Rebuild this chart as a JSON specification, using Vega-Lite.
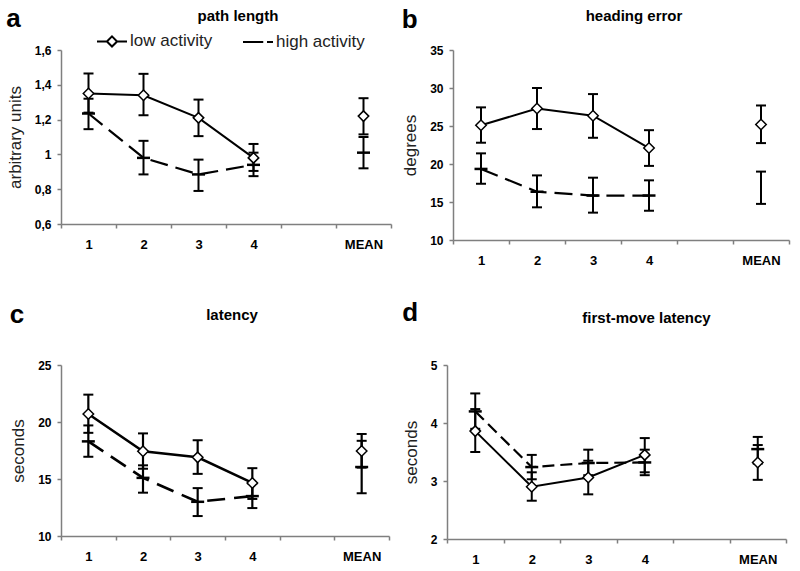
{
  "$schema": "https://vega.github.io/schema/vega-lite/v6.json",
  "padding": {"left": 6, "top": 6, "right": 5, "bottom": 5},
  "background": "white",
  "config": {
    "font": "Liberation Sans",
    "view": {"stroke": null},
    "axis": {"domainColor": "#7f7f7f", "domainWidth": 1.5, "tickColor": "#7f7f7f", "tickWidth": 1.5, "tickSize": 4, "labelFontSize": 12, "labelFontWeight": "bold", "labelColor": "black", "titleFontSize": 17, "titleFontWeight": "normal", "titleColor": "#222", "grid": false, "labelOverlap": false},
    "axisX": {"labelPadding": 10, "labelFontSize": 13},
    "axisY": {"labelPadding": 6, "titlePadding": 10},
    "title": {"color": "black"}
  },
  "data": {"values": [
    {"panel": "a", "group": "low activity", "x": "1", "y": 1.35, "lo": 1.24, "hi": 1.465},
    {"panel": "a", "group": "low activity", "x": "2", "y": 1.34, "lo": 1.225, "hi": 1.463},
    {"panel": "a", "group": "low activity", "x": "3", "y": 1.21, "lo": 1.105, "hi": 1.315},
    {"panel": "a", "group": "low activity", "x": "4", "y": 0.98, "lo": 0.905, "hi": 1.06},
    {"panel": "a", "group": "low activity", "x": "MEAN", "y": 1.22, "lo": 1.115, "hi": 1.323},
    {"panel": "a", "group": "high activity", "x": "1", "y": 1.235, "lo": 1.145, "hi": 1.32},
    {"panel": "a", "group": "high activity", "x": "2", "y": 0.98, "lo": 0.885, "hi": 1.078},
    {"panel": "a", "group": "high activity", "x": "3", "y": 0.885, "lo": 0.79, "hi": 0.97},
    {"panel": "a", "group": "high activity", "x": "4", "y": 0.94, "lo": 0.875, "hi": 1.01},
    {"panel": "a", "group": "high activity", "x": "MEAN", "y": 1.01, "lo": 0.92, "hi": 1.1},
    {"panel": "b", "group": "low activity", "x": "1", "y": 25.1, "lo": 22.8, "hi": 27.45},
    {"panel": "b", "group": "low activity", "x": "2", "y": 27.3, "lo": 24.6, "hi": 30.0},
    {"panel": "b", "group": "low activity", "x": "3", "y": 26.35, "lo": 23.45, "hi": 29.2},
    {"panel": "b", "group": "low activity", "x": "4", "y": 22.1, "lo": 19.75, "hi": 24.45},
    {"panel": "b", "group": "low activity", "x": "MEAN", "y": 25.2, "lo": 22.75, "hi": 27.7},
    {"panel": "b", "group": "high activity", "x": "1", "y": 19.35, "lo": 17.4, "hi": 21.4},
    {"panel": "b", "group": "high activity", "x": "2", "y": 16.35, "lo": 14.3, "hi": 18.5},
    {"panel": "b", "group": "high activity", "x": "3", "y": 15.85, "lo": 13.6, "hi": 18.2},
    {"panel": "b", "group": "high activity", "x": "4", "y": 15.85, "lo": 13.85, "hi": 17.85},
    {"panel": "b", "group": "high activity", "x": "MEAN", "y": 16.9, "lo": 14.75, "hi": 19.0},
    {"panel": "c", "group": "low activity", "x": "1", "y": 20.7, "lo": 19.05, "hi": 22.4},
    {"panel": "c", "group": "low activity", "x": "2", "y": 17.43, "lo": 15.9, "hi": 19.0},
    {"panel": "c", "group": "low activity", "x": "3", "y": 16.9, "lo": 15.45, "hi": 18.4},
    {"panel": "c", "group": "low activity", "x": "4", "y": 14.65, "lo": 13.25, "hi": 15.95},
    {"panel": "c", "group": "low activity", "x": "MEAN", "y": 17.45, "lo": 16.0, "hi": 18.95},
    {"panel": "c", "group": "high activity", "x": "1", "y": 18.3, "lo": 16.95, "hi": 19.7},
    {"panel": "c", "group": "high activity", "x": "2", "y": 15.1, "lo": 13.8, "hi": 16.2},
    {"panel": "c", "group": "high activity", "x": "3", "y": 13.0, "lo": 11.75, "hi": 14.2},
    {"panel": "c", "group": "high activity", "x": "4", "y": 13.5, "lo": 12.45, "hi": 14.6},
    {"panel": "c", "group": "high activity", "x": "MEAN", "y": 16.05, "lo": 13.75, "hi": 18.35},
    {"panel": "d", "group": "low activity", "x": "1", "y": 3.86, "lo": 3.5, "hi": 4.24},
    {"panel": "d", "group": "low activity", "x": "2", "y": 2.9, "lo": 2.66, "hi": 3.15},
    {"panel": "d", "group": "low activity", "x": "3", "y": 3.06, "lo": 2.77, "hi": 3.35},
    {"panel": "d", "group": "low activity", "x": "4", "y": 3.45, "lo": 3.15, "hi": 3.74},
    {"panel": "d", "group": "low activity", "x": "MEAN", "y": 3.32, "lo": 3.02, "hi": 3.62},
    {"panel": "d", "group": "high activity", "x": "1", "y": 4.2, "lo": 3.9, "hi": 4.51},
    {"panel": "d", "group": "high activity", "x": "2", "y": 3.24, "lo": 3.03, "hi": 3.45},
    {"panel": "d", "group": "high activity", "x": "3", "y": 3.31, "lo": 3.1, "hi": 3.54},
    {"panel": "d", "group": "high activity", "x": "4", "y": 3.32, "lo": 3.1, "hi": 3.54},
    {"panel": "d", "group": "high activity", "x": "MEAN", "y": 3.55, "lo": 3.3, "hi": 3.76}
  ]},
  "spacing": 33,
  "vconcat": [
    {
      "spacing": 9,
      "hconcat": [
        {
          "title": {"text": "a", "anchor": "start", "frame": "bounds", "fontSize": 26, "fontWeight": "bold", "offset": -23},
          "vconcat": [{
            "width": 330, "height": 174,
            "title": {"text": "path length", "fontSize": 15, "fontWeight": "bold", "offset": 20, "dx": 12},
            "transform": [{"filter": "datum.panel === 'a'"}],
            "encoding": {"x": {"field": "x", "type": "ordinal", "scale": {"domain": ["1", "2", "3", "4", " ", "MEAN"], "paddingInner": 0, "paddingOuter": 0}, "axis": {"title": null, "labelAngle": 0, "tickBand": "extent"}}},
            "layer": [
              {"transform": [{"filter": "datum.x !== 'MEAN' && datum.group === 'low activity'"}], "mark": {"type": "line", "color": "black", "strokeWidth": 2},
               "encoding": {"y": {"field": "y", "type": "quantitative", "title": "arbitrary units", "scale": {"domain": [0.6, 1.6], "nice": false, "zero": false}, "axis": {"values": [0.6, 0.8, 1, 1.2, 1.4, 1.6], "labelExpr": "replace(format(datum.value, '~g'), '.', ',')"}}}},
              {"transform": [{"filter": "datum.x !== 'MEAN' && datum.group === 'high activity'"}], "mark": {"type": "line", "color": "black", "strokeWidth": 2.2, "strokeDash": [18, 8]},
               "encoding": {"y": {"field": "y", "type": "quantitative", "title": "arbitrary units", "scale": {"domain": [0.6, 1.6], "nice": false, "zero": false}, "axis": {"values": [0.6, 0.8, 1, 1.2, 1.4, 1.6], "labelExpr": "replace(format(datum.value, '~g'), '.', ',')"}}}},
              {"mark": {"type": "rule", "color": "black", "strokeWidth": 2}, "encoding": {"y": {"field": "lo", "type": "quantitative", "title": "arbitrary units", "scale": {"domain": [0.6, 1.6], "nice": false, "zero": false}, "axis": {"values": [0.6, 0.8, 1, 1.2, 1.4, 1.6], "labelExpr": "replace(format(datum.value, '~g'), '.', ',')"}}, "y2": {"field": "hi"}, "detail": {"field": "group"}}},
              {"mark": {"type": "tick", "color": "black", "size": 10, "thickness": 2, "opacity": 1}, "encoding": {"y": {"field": "lo", "type": "quantitative", "title": "arbitrary units", "scale": {"domain": [0.6, 1.6], "nice": false, "zero": false}, "axis": {"values": [0.6, 0.8, 1, 1.2, 1.4, 1.6], "labelExpr": "replace(format(datum.value, '~g'), '.', ',')"}}}},
              {"mark": {"type": "tick", "color": "black", "size": 10, "thickness": 2, "opacity": 1}, "encoding": {"y": {"field": "hi", "type": "quantitative", "title": "arbitrary units", "scale": {"domain": [0.6, 1.6], "nice": false, "zero": false}, "axis": {"values": [0.6, 0.8, 1, 1.2, 1.4, 1.6], "labelExpr": "replace(format(datum.value, '~g'), '.', ',')"}}}},
              {"transform": [{"filter": "datum.group === 'high activity'"}], "mark": {"type": "tick", "color": "black", "size": 13, "thickness": 2.5, "opacity": 1}, "encoding": {"y": {"field": "y", "type": "quantitative", "title": "arbitrary units", "scale": {"domain": [0.6, 1.6], "nice": false, "zero": false}, "axis": {"values": [0.6, 0.8, 1, 1.2, 1.4, 1.6], "labelExpr": "replace(format(datum.value, '~g'), '.', ',')"}}}},
              {"transform": [{"filter": "datum.group === 'low activity'"}], "mark": {"type": "point", "shape": "diamond", "filled": true, "fill": "white", "stroke": "black", "strokeWidth": 1.5, "size": 110, "opacity": 1},
               "encoding": {"y": {"field": "y", "type": "quantitative", "title": "arbitrary units", "scale": {"domain": [0.6, 1.6], "nice": false, "zero": false}, "axis": {"values": [0.6, 0.8, 1, 1.2, 1.4, 1.6], "labelExpr": "replace(format(datum.value, '~g'), '.', ',')"}}}},
              {"transform": [{"filter": "false"}], "mark": {"type": "point", "filled": false, "color": "black", "strokeWidth": 2, "size": 900, "opacity": 1},
               "encoding": {"y": {"field": "y", "type": "quantitative", "title": "arbitrary units", "scale": {"domain": [0.6, 1.6], "nice": false, "zero": false}, "axis": {"values": [0.6, 0.8, 1, 1.2, 1.4, 1.6], "labelExpr": "replace(format(datum.value, '~g'), '.', ',')"}},
                 "shape": {"field": "group", "type": "nominal", "scale": {"domain": ["low activity", "high activity"], "range": ["M-1,0L-0.34,0M0.34,0L1,0M0,-0.34L0.34,0L0,0.34L-0.34,0Z", "M-1,0L0.35,0M0.6,0L1,0"]},
                   "legend": {"orient": "none", "legendX": 35, "legendY": -25, "direction": "horizontal", "title": null, "labelFontSize": 17, "labelFontWeight": "normal", "labelColor": "#222", "labelOffset": 2, "columnPadding": 26, "symbolSize": 900, "symbolStrokeWidth": 2, "symbolStrokeColor": "black", "symbolOpacity": 1}}}}
            ]
          }]
        },
        {
          "title": {"text": "b", "anchor": "start", "frame": "bounds", "fontSize": 26, "fontWeight": "bold", "offset": -24},
          "vconcat": [{
            "width": 336, "height": 190,
            "title": {"text": "heading error", "fontSize": 15, "fontWeight": "bold", "offset": 20, "dx": 13},
            "transform": [{"filter": "datum.panel === 'b'"}],
            "encoding": {"x": {"field": "x", "type": "ordinal", "scale": {"domain": ["1", "2", "3", "4", " ", "MEAN"], "paddingInner": 0, "paddingOuter": 0}, "axis": {"title": null, "labelAngle": 0, "tickBand": "extent"}}},
            "layer": [
              {"transform": [{"filter": "datum.x !== 'MEAN' && datum.group === 'low activity'"}], "mark": {"type": "line", "color": "black", "strokeWidth": 2},
               "encoding": {"y": {"field": "y", "type": "quantitative", "title": "degrees", "scale": {"domain": [10, 35], "nice": false, "zero": false}, "axis": {"values": [10, 15, 20, 25, 30, 35], "format": "d"}}}},
              {"transform": [{"filter": "datum.x !== 'MEAN' && datum.group === 'high activity'"}], "mark": {"type": "line", "color": "black", "strokeWidth": 2.2, "strokeDash": [18, 8]},
               "encoding": {"y": {"field": "y", "type": "quantitative", "title": "degrees", "scale": {"domain": [10, 35], "nice": false, "zero": false}, "axis": {"values": [10, 15, 20, 25, 30, 35], "format": "d"}}}},
              {"mark": {"type": "rule", "color": "black", "strokeWidth": 2}, "encoding": {"y": {"field": "lo", "type": "quantitative", "title": "degrees", "scale": {"domain": [10, 35], "nice": false, "zero": false}, "axis": {"values": [10, 15, 20, 25, 30, 35], "format": "d"}}, "y2": {"field": "hi"}, "detail": {"field": "group"}}},
              {"mark": {"type": "tick", "color": "black", "size": 10, "thickness": 2, "opacity": 1}, "encoding": {"y": {"field": "lo", "type": "quantitative", "title": "degrees", "scale": {"domain": [10, 35], "nice": false, "zero": false}, "axis": {"values": [10, 15, 20, 25, 30, 35], "format": "d"}}}},
              {"mark": {"type": "tick", "color": "black", "size": 10, "thickness": 2, "opacity": 1}, "encoding": {"y": {"field": "hi", "type": "quantitative", "title": "degrees", "scale": {"domain": [10, 35], "nice": false, "zero": false}, "axis": {"values": [10, 15, 20, 25, 30, 35], "format": "d"}}}},
              {"transform": [{"filter": "datum.group === 'high activity' && datum.x !== 'MEAN'"}], "mark": {"type": "tick", "color": "black", "size": 13, "thickness": 2.5, "opacity": 1}, "encoding": {"y": {"field": "y", "type": "quantitative", "title": "degrees", "scale": {"domain": [10, 35], "nice": false, "zero": false}, "axis": {"values": [10, 15, 20, 25, 30, 35], "format": "d"}}}},
              {"transform": [{"filter": "datum.group === 'low activity'"}], "mark": {"type": "point", "shape": "diamond", "filled": true, "fill": "white", "stroke": "black", "strokeWidth": 1.5, "size": 110, "opacity": 1},
               "encoding": {"y": {"field": "y", "type": "quantitative", "title": "degrees", "scale": {"domain": [10, 35], "nice": false, "zero": false}, "axis": {"values": [10, 15, 20, 25, 30, 35], "format": "d"}}}}
            ]
          }]
        }
      ]
    },
    {
      "spacing": 12,
      "hconcat": [
        {
          "title": {"text": "c", "anchor": "start", "frame": "bounds", "fontSize": 26, "fontWeight": "bold", "offset": -20},
          "vconcat": [{
            "width": 328, "height": 171,
            "title": {"text": "latency", "fontSize": 15, "fontWeight": "bold", "offset": 36, "dx": 7},
            "transform": [{"filter": "datum.panel === 'c'"}],
            "encoding": {"x": {"field": "x", "type": "ordinal", "scale": {"domain": ["1", "2", "3", "4", " ", "MEAN"], "paddingInner": 0, "paddingOuter": 0}, "axis": {"title": null, "labelAngle": 0, "tickBand": "extent"}}},
            "layer": [
              {"transform": [{"filter": "datum.x !== 'MEAN' && datum.group === 'low activity'"}], "mark": {"type": "line", "color": "black", "strokeWidth": 2.5},
               "encoding": {"y": {"field": "y", "type": "quantitative", "title": "seconds", "scale": {"domain": [10, 25], "nice": false, "zero": false}, "axis": {"values": [10, 15, 20, 25], "format": "d"}}}},
              {"transform": [{"filter": "datum.x !== 'MEAN' && datum.group === 'high activity'"}], "mark": {"type": "line", "color": "black", "strokeWidth": 2.6, "strokeDash": [18, 9]},
               "encoding": {"y": {"field": "y", "type": "quantitative", "title": "seconds", "scale": {"domain": [10, 25], "nice": false, "zero": false}, "axis": {"values": [10, 15, 20, 25], "format": "d"}}}},
              {"mark": {"type": "rule", "color": "black", "strokeWidth": 2.2}, "encoding": {"y": {"field": "lo", "type": "quantitative", "title": "seconds", "scale": {"domain": [10, 25], "nice": false, "zero": false}, "axis": {"values": [10, 15, 20, 25], "format": "d"}}, "y2": {"field": "hi"}, "detail": {"field": "group"}}},
              {"mark": {"type": "tick", "color": "black", "size": 10, "thickness": 2, "opacity": 1}, "encoding": {"y": {"field": "lo", "type": "quantitative", "title": "seconds", "scale": {"domain": [10, 25], "nice": false, "zero": false}, "axis": {"values": [10, 15, 20, 25], "format": "d"}}}},
              {"mark": {"type": "tick", "color": "black", "size": 10, "thickness": 2, "opacity": 1}, "encoding": {"y": {"field": "hi", "type": "quantitative", "title": "seconds", "scale": {"domain": [10, 25], "nice": false, "zero": false}, "axis": {"values": [10, 15, 20, 25], "format": "d"}}}},
              {"transform": [{"filter": "datum.group === 'high activity'"}], "mark": {"type": "tick", "color": "black", "size": 13, "thickness": 2.5, "opacity": 1}, "encoding": {"y": {"field": "y", "type": "quantitative", "title": "seconds", "scale": {"domain": [10, 25], "nice": false, "zero": false}, "axis": {"values": [10, 15, 20, 25], "format": "d"}}}},
              {"transform": [{"filter": "datum.group === 'low activity'"}], "mark": {"type": "point", "shape": "diamond", "filled": true, "fill": "white", "stroke": "black", "strokeWidth": 1.5, "size": 110, "opacity": 1},
               "encoding": {"y": {"field": "y", "type": "quantitative", "title": "seconds", "scale": {"domain": [10, 25], "nice": false, "zero": false}, "axis": {"values": [10, 15, 20, 25], "format": "d"}}}}
            ]
          }]
        },
        {
          "title": {"text": "d", "anchor": "start", "frame": "bounds", "fontSize": 26, "fontWeight": "bold", "offset": -15},
          "vconcat": [{
            "width": 339, "height": 174,
            "title": {"text": "first-move latency", "fontSize": 15, "fontWeight": "bold", "offset": 33, "dx": 30},
            "transform": [{"filter": "datum.panel === 'd'"}],
            "encoding": {"x": {"field": "x", "type": "ordinal", "scale": {"domain": ["1", "2", "3", "4", " ", "MEAN"], "paddingInner": 0, "paddingOuter": 0}, "axis": {"title": null, "labelAngle": 0, "tickBand": "extent"}}},
            "layer": [
              {"transform": [{"filter": "datum.x !== 'MEAN' && datum.group === 'low activity'"}], "mark": {"type": "line", "color": "black", "strokeWidth": 2},
               "encoding": {"y": {"field": "y", "type": "quantitative", "title": "seconds", "scale": {"domain": [2, 5], "nice": false, "zero": false}, "axis": {"values": [2, 3, 4, 5], "format": "d"}}}},
              {"transform": [{"filter": "datum.x !== 'MEAN' && datum.group === 'high activity'"}], "mark": {"type": "line", "color": "black", "strokeWidth": 2.2, "strokeDash": [12, 6]},
               "encoding": {"y": {"field": "y", "type": "quantitative", "title": "seconds", "scale": {"domain": [2, 5], "nice": false, "zero": false}, "axis": {"values": [2, 3, 4, 5], "format": "d"}}}},
              {"mark": {"type": "rule", "color": "black", "strokeWidth": 2}, "encoding": {"y": {"field": "lo", "type": "quantitative", "title": "seconds", "scale": {"domain": [2, 5], "nice": false, "zero": false}, "axis": {"values": [2, 3, 4, 5], "format": "d"}}, "y2": {"field": "hi"}, "detail": {"field": "group"}}},
              {"mark": {"type": "tick", "color": "black", "size": 10, "thickness": 2, "opacity": 1}, "encoding": {"y": {"field": "lo", "type": "quantitative", "title": "seconds", "scale": {"domain": [2, 5], "nice": false, "zero": false}, "axis": {"values": [2, 3, 4, 5], "format": "d"}}}},
              {"mark": {"type": "tick", "color": "black", "size": 10, "thickness": 2, "opacity": 1}, "encoding": {"y": {"field": "hi", "type": "quantitative", "title": "seconds", "scale": {"domain": [2, 5], "nice": false, "zero": false}, "axis": {"values": [2, 3, 4, 5], "format": "d"}}}},
              {"transform": [{"filter": "datum.group === 'high activity'"}], "mark": {"type": "tick", "color": "black", "size": 13, "thickness": 2.5, "opacity": 1}, "encoding": {"y": {"field": "y", "type": "quantitative", "title": "seconds", "scale": {"domain": [2, 5], "nice": false, "zero": false}, "axis": {"values": [2, 3, 4, 5], "format": "d"}}}},
              {"transform": [{"filter": "datum.group === 'low activity'"}], "mark": {"type": "point", "shape": "diamond", "filled": true, "fill": "white", "stroke": "black", "strokeWidth": 1.5, "size": 110, "opacity": 1},
               "encoding": {"y": {"field": "y", "type": "quantitative", "title": "seconds", "scale": {"domain": [2, 5], "nice": false, "zero": false}, "axis": {"values": [2, 3, 4, 5], "format": "d"}}}}
            ]
          }]
        }
      ]
    }
  ]
}
